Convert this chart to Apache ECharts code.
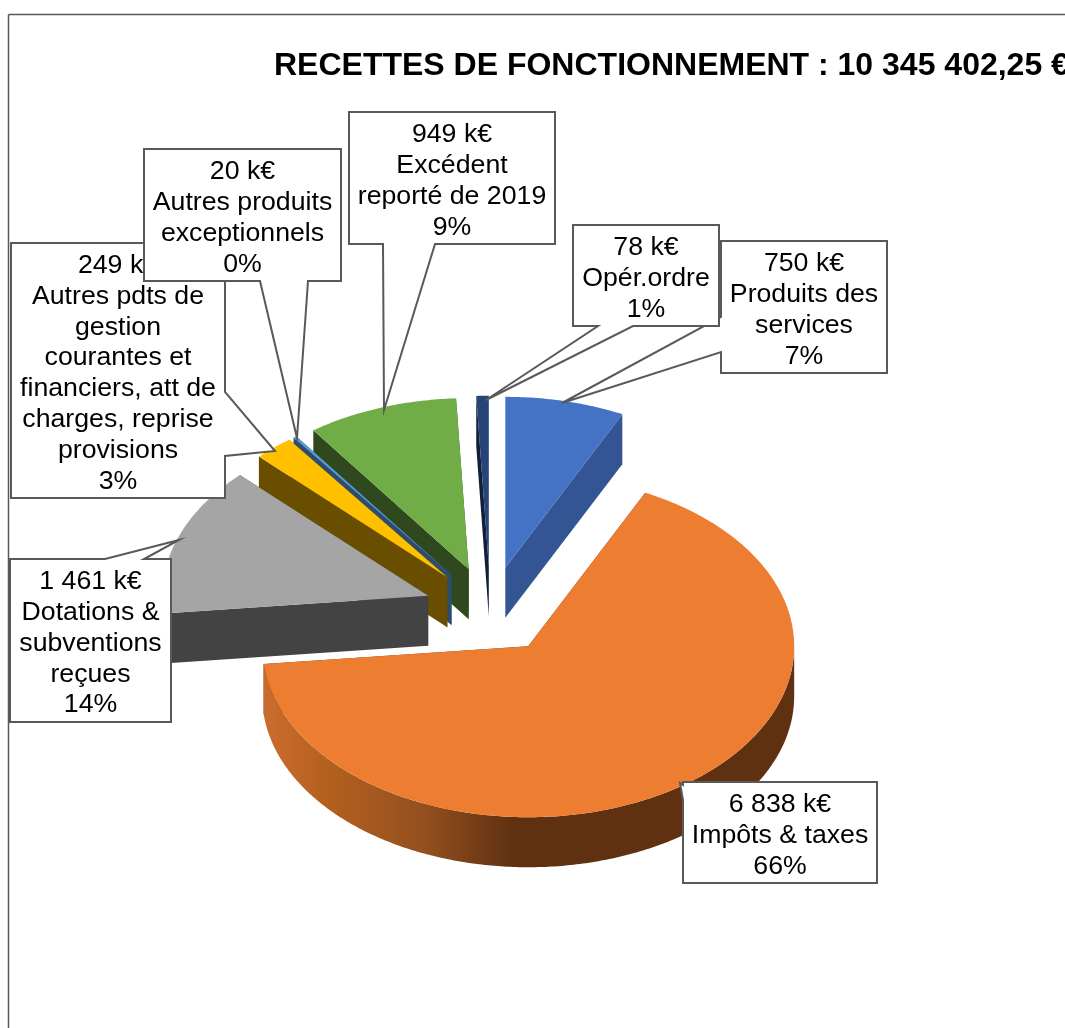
<!DOCTYPE html>
<html>
<head>
<meta charset="utf-8">
<style>html,body{margin:0;padding:0;background:#fff}#c{width:1065px;height:1028px}</style>
<script src="https://cdn.jsdelivr.net/npm/echarts@6/dist/echarts.min.js"></script>
</head>
<body>
<div id="c"></div>
<script>
// ---- data (k€), clockwise from 12 o'clock ----
const categories = ['Produits des services', 'Impôts & taxes', 'Dotations & subventions reçues',
  'Autres pdts de gestion courantes et financiers, att de charges, reprise provisions',
  'Autres produits exceptionnels', 'Excédent reporté de 2019', 'Opér.ordre'];
const values = [750, 6838, 1461, 249, 20, 949, 78];
const valueLabels = ['750 k€', '6 838 k€', '1 461 k€', '249 k€', '20 k€', '949 k€', '78 k€'];
const percentLabels = ['7%', '66%', '14%', '3%', '0%', '9%', '1%'];
const wrappedNames = [
  ['Produits des', 'services'],
  ['Impôts & taxes'],
  ['Dotations &', 'subventions', 'reçues'],
  ['Autres pdts de', 'gestion', 'courantes et', 'financiers, att de', 'charges, reprise', 'provisions'],
  ['Autres produits', 'exceptionnels'],
  ['Excédent', 'reporté de 2019'],
  ['Opér.ordre']
];
const titleText = 'RECETTES DE FONCTIONNEMENT : 10 345 402,25 €';

// ---- styles ----
const topColors = ['#4472C4', '#ED7D31', '#A5A5A5', '#FFC000', '#5B9BD5', '#70AD47', '#264478'];
const sideColors = ['#335593', '#5F3111', '#434343', '#6A4E00', '#2C4D6E', '#2F481D', '#121F38'];
const drawOrder = [6, 5, 4, 3, 2, 0, 1];

// ---- projection layout of the tilted pie ----
const CX = 490.4, CY = 610.4, RX = 266, RY = 171, DEPTH = 50, EXPLODE_X = 66, EXPLODE_Y = 43.7;

// ---- callout layout: box [x0,y0,x1,y1], pointer polygon part ----
const callouts = [
  { i: 3, box: [11, 243, 225, 498], side: 'r', base: [392, 456], tip: [275, 451] },
  { i: 4, box: [144, 149, 341, 281], side: 'b', base: [260, 308], tip: [297, 438] },
  { i: 5, box: [349, 112, 555, 244], side: 'b', base: [383, 435], tip: [384, 410] },
  { i: 0, box: [721, 241, 887, 373], side: 'l', base: [352, 317], tip: [562, 403] },
  { i: 6, box: [573, 225, 719, 326], side: 'b', base: [598, 633], tip: [486, 400] },
  { i: 2, box: [10, 559, 171, 722], side: 't', base: [105, 144], tip: [179, 540] },
  { i: 1, box: [683, 782, 877, 883], side: 'l', base: [800, 785], tip: [680, 783] }
];

const total = values.reduce((a, b) => a + b, 0);
const starts = [];
values.reduce((acc, v, i) => { starts[i] = acc; return acc + v; }, 0);

function renderSlice(params, api) {
  const idx = api.value(1);
  const v = api.value(0);
  const a0 = starts[idx] / total * 2 * Math.PI;
  const a1 = a0 + v / total * 2 * Math.PI;
  const mid = (a0 + a1) / 2;
  const ax = CX + EXPLODE_X * Math.sin(mid);
  const ay = CY - EXPLODE_Y * Math.cos(mid);
  const rim = (a, dy) => [ax + RX * Math.sin(a), ay - RY * Math.cos(a) + (dy || 0)];
  const arc = (from, to, dy) => {
    const n = Math.max(2, Math.ceil(Math.abs(to - from) / 0.012));
    const pts = [];
    for (let k = 0; k <= n; k++) pts.push(rim(from + (to - from) * k / n, dy));
    return pts;
  };
  const children = [];
  const quad = (a, fill) => ({
    type: 'polygon',
    shape: { points: [[ax, ay], rim(a), rim(a, DEPTH), [ax, ay + DEPTH]] },
    style: { fill: fill }
  });
  children.push(quad(a1, sideColors[idx]));
  children.push(quad(a0, sideColors[idx]));
  const f0 = Math.max(a0, Math.PI / 2), f1 = Math.min(a1, 1.5 * Math.PI);
  if (f1 > f0) {
    const fill = idx === 1
      ? new echarts.graphic.LinearGradient(0, 0, 1, 0, [
          { offset: 0, color: '#CB6C2D' },
          { offset: 0.12, color: '#B4601F' },
          { offset: 0.3, color: '#94501F' },
          { offset: 0.47, color: '#5F3111' },
          { offset: 1, color: '#5F3111' }
        ])
      : sideColors[idx];
    children.push({
      type: 'polygon',
      shape: { points: arc(f0, f1, 0).concat(arc(f1, f0, DEPTH)) },
      style: { fill: fill }
    });
  }
  children.push({
    type: 'polygon',
    shape: { points: [[ax, ay]].concat(arc(a0, a1, 0)) },
    style: { fill: topColors[idx] }
  });
  return { type: 'group', children: children };
}

function calloutPoints(c) {
  const [x0, y0, x1, y1] = c.box, [b0, b1] = c.base;
  if (c.side === 'b') return [[x0, y0], [x1, y0], [x1, y1], [b1, y1], c.tip, [b0, y1], [x0, y1]];
  if (c.side === 't') return [[x0, y0], [b0, y0], c.tip, [b1, y0], [x1, y0], [x1, y1], [x0, y1]];
  if (c.side === 'r') return [[x0, y0], [x1, y0], [x1, b0], c.tip, [x1, b1], [x1, y1], [x0, y1]];
  return [[x0, y0], [x1, y0], [x1, y1], [x0, y1], [x0, b0], c.tip, [x0, b1]];
}

const graphics = [
  { type: 'line', silent: true, z: 1, shape: { x1: 8.5, y1: 14.5, x2: 1065, y2: 14.5 }, style: { stroke: '#595959', lineWidth: 1.5 } },
  { type: 'line', silent: true, z: 1, shape: { x1: 8.5, y1: 14.5, x2: 8.5, y2: 1028 }, style: { stroke: '#595959', lineWidth: 1.5 } }
];
callouts.forEach((c, n) => {
  graphics.push({
    type: 'polygon', z: 20 + n * 2, silent: true,
    shape: { points: calloutPoints(c) },
    style: { fill: '#fff', stroke: '#595959', lineWidth: 2, lineJoin: 'miter' }
  });
  const lines = [valueLabels[c.i]].concat(wrappedNames[c.i], percentLabels[c.i]);
  graphics.push({
    type: 'text', z: 21 + n * 2, silent: true,
    x: (c.box[0] + c.box[2]) / 2, y: (c.box[1] + c.box[3]) / 2 + 3,
    style: {
      text: lines.join('\n'), align: 'center', verticalAlign: 'middle',
      fill: '#000', font: '26.7px "Liberation Sans", Arial, sans-serif', lineHeight: 30.8
    }
  });
});

const chart = echarts.init(document.getElementById('c'), null, { renderer: 'canvas' });
chart.setOption({
  animation: false,
  backgroundColor: '#fff',
  title: {
    text: titleText, left: 269, top: 45,
    textStyle: { fontFamily: '"Liberation Sans", Arial, sans-serif', fontWeight: 'bold', fontSize: 32, color: '#000' }
  },
  series: [{
    type: 'custom',
    coordinateSystem: 'none',
    silent: true,
    renderItem: renderSlice,
    encode: { value: 0 },
    data: drawOrder.map(i => ({ name: categories[i], value: [values[i], i] }))
  }],
  graphic: { elements: graphics }
});
</script>
</body>
</html>
